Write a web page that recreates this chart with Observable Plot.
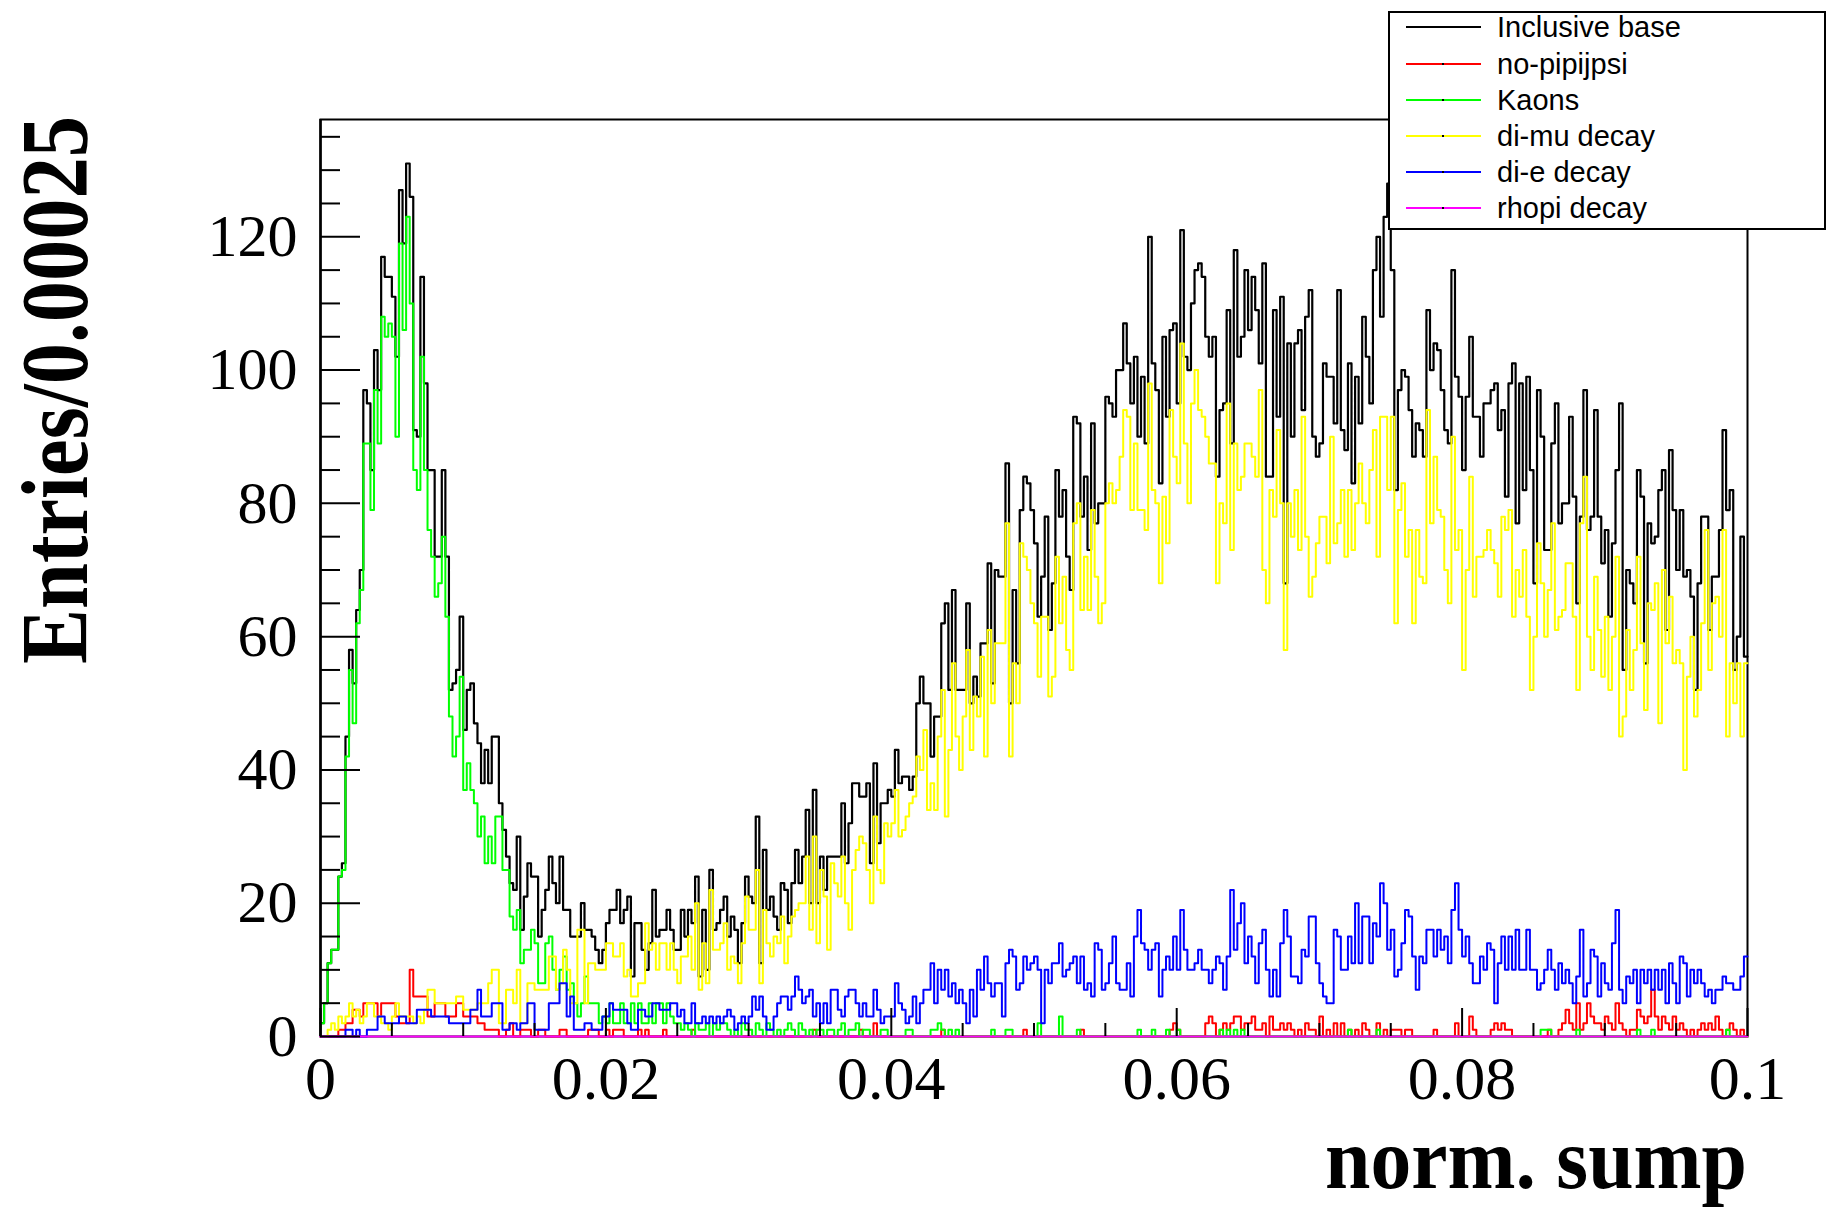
<!DOCTYPE html>
<html><head><meta charset="utf-8">
<script src="https://cdn.jsdelivr.net/npm/d3@7"></script>
<script src="https://cdn.jsdelivr.net/npm/@observablehq/plot@0.6"></script>
<style>body{margin:0;background:#fff;} #chart{width:1826px;height:1208px;}</style>
</head><body><div id="chart"></div>
<script>
// Histogram axis: 400 bins on [0, 0.1]
const xLo = 0, xHi = 0.1, binWidth = 0.00025;

const inclusiveBase = [
2,5,11,13,13,24,26,45,58,53, 64,70,97,95,85,103,97,117,114,114,
111,102,127,119,131,126,91,90,114,98, 85,85,72,72,85,72,52,53,55,63,
46,52,53,47,44,38,43,38,45,45, 35,31,27,23,22,30,16,21,26,24,
24,15,19,22,27,23,20,27,19,19, 15,15,15,20,16,16,15,13,11,13,
17,19,19,22,17,19,21,9,17,17, 13,10,14,22,15,16,16,19,16,13,
13,19,15,19,17,24,9,19,10,25, 16,17,19,21,15,18,16,11,17,24,
21,20,33,11,28,19,21,18,16,23, 22,17,23,28,23,27,34,20,37,20,
27,22,27,27,27,27,35,26,32,38, 38,36,36,38,26,41,29,35,35,37,
36,43,38,39,39,37,39,50,54,50, 50,42,48,48,62,65,52,67,52,52,
52,65,50,54,51,59,59,71,53,70, 69,69,86,50,67,56,79,84,83,79,
74,63,69,78,61,68,85,78,82,72, 67,93,92,78,84,73,92,77,80,80,
96,95,93,100,100,107,101,95,102,90, 99,89,120,101,97,83,105,93,106,107,
95,121,102,100,110,115,116,114,105,102, 105,84,94,95,109,89,118,102,105,115,
106,114,109,101,116,84,84,109,93,111, 68,104,90,104,106,94,108,112,90,87,
89,101,99,99,92,112,91,88,101,83, 99,92,108,102,95,115,120,108,123,128,
115,82,97,100,99,94,87,92,91,87, 109,100,104,103,97,91,89,115,99,96,
85,96,105,93,93,87,95,95,97,98, 91,94,81,98,101,77,98,82,99,85,
68,97,90,73,73,89,95,77,80,80, 93,81,65,78,97,76,78,94,78,71,
76,63,74,85,95,55,70,68,65,85, 81,56,77,74,75,82,85,61,88,79,
70,79,69,70,66,52,68,78,78,61, 69,69,76,91,79,82,55,60,75,57
];

const noPipijpsi = [
0,0,0,0,0,1,1,2,2,4, 4,3,5,5,5,5,3,5,5,5,
5,3,2,2,2,10,6,6,6,6, 3,3,5,5,5,3,3,3,5,5,
3,3,3,3,2,2,1,1,1,1, 0,0,1,2,0,0,1,1,1,0,
0,1,1,0,0,0,0,1,1,0, 0,0,0,0,0,1,1,1,0,0,
1,0,1,1,1,0,0,0,0,1, 0,1,0,0,0,0,1,0,0,0,
0,0,0,0,1,0,0,0,0,0, 0,0,0,0,0,0,0,0,0,0,
0,0,0,0,0,0,0,0,0,0, 0,0,0,0,0,0,0,0,1,0,
0,0,0,0,0,0,0,0,0,0, 0,1,0,0,0,2,0,0,0,0,
0,0,0,0,0,0,0,0,0,0, 0,0,0,0,1,0,0,0,0,0,
0,0,0,0,0,0,0,0,0,0, 0,0,0,0,0,0,0,1,0,0,
0,0,0,0,0,0,0,0,0,0, 0,0,0,1,0,0,0,0,0,0,
0,0,0,0,0,0,0,0,0,0, 0,0,0,0,0,0,0,0,1,2,
1,0,0,0,0,0,0,0,2,3, 2,0,1,2,1,2,3,3,1,2,
2,3,1,1,2,0,3,1,1,2, 1,2,1,0,1,0,2,1,1,0,
3,0,1,0,2,0,2,0,1,0, 1,0,2,1,0,0,2,0,1,0,
1,1,1,0,1,1,0,0,0,0, 0,0,1,0,0,0,0,0,2,0,
0,0,3,1,0,0,0,0,1,2, 1,2,1,1,0,0,0,0,0,0,
0,0,0,0,1,0,0,1,2,4, 2,1,5,1,2,5,3,2,2,1,
3,2,1,5,2,1,0,1,1,4, 3,2,3,7,3,1,3,2,1,3,
1,2,1,0,1,0,1,2,1,2, 1,3,1,0,1,2,1,0,1,0
];

const kaons = [
2,5,11,13,13,24,25,42,55,47, 62,67,89,89,79,97,89,108,105,107,
105,90,119,106,123,110,85,82,102,85, 76,72,66,68,75,63,48,42,45,54,
37,41,37,35,30,33,26,30,26,33, 33,25,25,18,16,19,11,13,13,16,
14,8,8,14,15,10,7,10,12,7, 8,5,3,5,9,5,5,5,2,3,
2,5,2,2,5,2,2,5,2,5, 2,2,5,2,5,5,2,5,3,2,
2,1,2,1,0,2,1,1,2,0, 2,1,2,2,1,0,1,0,2,1,
1,0,2,1,0,2,1,0,1,0, 1,2,1,0,2,1,0,1,0,1,
1,0,1,1,0,1,2,0,1,1, 2,0,1,1,0,0,0,1,1,0,
0,0,0,0,1,1,0,0,0,0, 0,1,1,2,1,0,1,0,1,0,
0,0,0,0,0,0,0,0,1,0, 0,0,1,1,0,0,0,0,0,0,
0,2,0,0,0,0,0,3,0,0, 0,0,1,0,0,0,0,0,0,0,
0,0,0,0,0,0,0,0,0,1, 0,0,0,1,0,0,0,1,0,0,
1,0,0,0,0,0,0,0,0,0, 0,0,1,0,1,0,1,0,1,0,
0,0,0,0,0,0,0,0,0,0, 0,0,0,0,0,0,0,0,0,0,
0,0,0,0,0,0,0,0,1,0, 0,0,0,0,0,0,1,0,0,0,
0,0,0,0,0,0,0,0,0,0, 0,0,0,0,0,0,0,0,0,0,
0,0,0,0,0,0,0,0,0,0, 0,0,0,0,0,0,0,0,0,0,
0,0,1,1,1,0,0,0,0,0, 0,0,1,0,0,0,0,0,0,0,
0,0,0,0,0,0,0,0,0,1, 0,0,0,1,0,0,0,0,0,0,
0,0,0,0,0,0,0,0,0,0, 0,0,0,0,1,0,0,0,0,0
];

const diMuDecay = [
0,0,1,2,1,3,2,3,5,3, 4,2,3,5,5,3,3,2,2,1,
3,5,3,3,3,3,2,3,2,4, 7,7,5,5,5,5,5,5,6,6,
4,4,4,4,5,5,5,8,10,10, 2,2,7,7,5,10,2,2,8,8,
7,7,7,7,12,12,7,8,13,10, 5,5,16,16,5,11,11,10,10,10,
14,14,12,12,14,9,10,6,6,8, 8,17,13,14,10,14,14,10,14,10,
8,12,12,15,10,20,7,14,8,22, 13,13,14,17,10,12,11,8,14,21,
16,16,25,8,19,14,12,15,14,18, 11,15,18,19,20,20,27,16,30,14,
25,21,13,26,23,21,27,20,16,25, 28,30,29,25,20,33,25,23,32,30,
32,37,30,31,33,35,36,42,40,46, 34,38,34,45,52,33,43,56,45,40,
48,58,43,51,48,57,42,61,50,59, 59,59,77,42,56,50,74,72,70,65,
62,54,63,63,51,54,72,62,69,58, 55,77,80,64,72,64,79,69,62,65,
80,83,80,82,87,94,93,79,89,79, 79,76,98,82,80,68,81,74,94,87,
83,104,89,80,95,100,94,93,90,86, 86,68,80,77,95,73,89,82,84,89,
89,87,84,97,70,65,82,78,91,80, 58,80,75,82,73,93,75,66,69,74,
78,78,71,90,74,77,82,72,82,73, 80,86,80,77,85,91,72,93,93,82,
93,62,79,83,72,76,62,76,69,68, 94,77,87,79,78,70,65,90,73,76,
55,70,84,66,72,72,73,76,73,71, 66,78,76,79,63,70,66,73,63,52,
60,74,68,60,67,77,61,63,64,71, 71,63,52,77,84,60,55,69,61,54,
63,52,60,72,45,48,61,52,58,72, 59,49,65,64,68,47,70,59,66,56,
58,56,40,54,60,48,52,62,76,55, 65,66,60,76,45,56,50,56,45,56
];

const diEDecay = [
0,0,0,0,0,0,0,1,1,0, 1,0,0,1,1,1,3,3,2,2,
2,2,3,3,2,2,2,4,4,4, 4,3,3,3,3,3,2,2,2,2,
2,2,4,4,7,3,3,3,5,5, 5,1,1,2,2,1,2,2,5,5,
1,1,1,1,5,5,5,8,8,3, 6,1,1,1,2,2,1,1,1,3,
3,5,4,4,4,4,2,1,1,4, 4,3,3,5,5,4,4,4,5,5,
3,4,2,2,5,2,2,3,2,3, 2,3,2,3,4,3,1,2,3,2,
3,6,4,6,3,1,1,3,5,6, 6,4,6,9,7,5,6,7,3,5,
2,5,2,7,7,4,3,6,7,7, 5,3,5,3,3,7,4,2,3,3,
3,8,5,4,2,3,6,2,5,7, 7,11,5,10,7,10,6,8,5,7,
5,2,7,3,10,7,12,8,6,8, 8,3,11,13,12,7,8,12,10,11,
12,10,2,10,8,11,11,14,9,10, 11,12,8,12,7,8,6,14,13,7,
8,11,15,8,7,7,11,6,15,19, 14,13,10,13,14,6,10,12,10,15,
10,19,13,10,10,11,13,10,10,8, 10,12,11,7,12,22,13,17,20,11,
15,12,8,14,16,10,6,10,6,14, 19,15,9,9,8,13,12,18,18,11,
8,6,5,5,16,15,10,10,15,11, 20,11,18,18,11,17,15,23,20,13,
16,9,10,14,19,18,12,7,12,11, 16,16,12,16,13,15,11,19,23,16,
12,15,11,8,8,12,10,14,13,5, 11,15,10,15,10,16,10,10,16,10,
10,7,8,10,13,10,7,11,8,10, 8,5,9,16,6,8,13,12,6,11,
8,7,14,19,7,5,9,8,10,5, 10,8,10,7,10,7,10,5,11,8,
5,12,11,6,10,8,10,8,6,7, 5,7,7,9,8,8,7,7,9,12
];

const rhopiDecay = [
0,0,0,0,0,0,0,0,0,0, 0,0,0,0,0,0,0,0,0,0, 0,0,0,0,0,0,0,0,0,0, 0,0,0,0,0,0,0,0,0,0,
0,0,0,0,0,0,0,0,0,0, 0,0,0,0,0,0,0,0,0,0, 0,0,0,0,0,0,0,0,0,0, 0,0,0,0,0,0,0,0,0,0,
0,0,0,0,0,0,0,0,0,0, 0,0,0,0,0,0,0,0,0,0, 0,0,0,0,0,0,0,0,0,0, 0,0,0,0,0,0,0,0,0,0,
0,0,0,0,0,0,0,0,0,0, 0,0,0,0,0,0,0,0,0,0, 0,0,0,0,0,0,0,0,0,0, 0,0,0,0,0,0,0,0,0,0,
0,0,0,0,0,0,0,0,0,0, 0,0,0,0,0,0,0,0,0,0, 0,0,0,0,0,0,0,0,0,0, 0,0,0,0,0,0,0,0,0,0,
0,0,0,0,0,0,0,0,0,0, 0,0,0,0,0,0,0,0,0,0, 0,0,0,0,0,0,0,0,0,0, 0,0,0,0,0,0,0,0,0,0,
0,0,0,0,0,0,0,0,0,0, 0,0,0,0,0,0,0,0,0,0, 0,0,0,0,0,0,0,0,0,0, 0,0,0,0,0,0,0,0,0,0,
0,0,0,0,0,0,0,0,0,0, 0,0,0,0,0,0,0,0,0,0, 0,0,0,0,0,0,0,0,0,0, 0,0,0,0,0,0,0,0,0,0,
0,0,0,0,0,0,0,0,0,0, 0,0,0,0,0,0,0,0,0,0, 0,0,0,0,0,0,0,0,0,0, 0,0,0,0,0,0,0,0,0,0,
0,0,0,0,0,0,0,0,0,0, 0,0,0,0,0,0,0,0,0,0, 0,0,0,0,0,0,0,0,0,0, 0,0,0,0,0,0,0,0,0,0
];

const seriesNames = ["Inclusive base", "no-pipijpsi", "Kaons", "di-mu decay", "di-e decay", "rhopi decay"];
const seriesColors = ["#000000", "#ff0000", "#00ff00", "#ffff00", "#0000ff", "#ff00ff"];
const seriesValues = [inclusiveBase, noPipijpsi, kaons, diMuDecay, diEDecay, rhopiDecay];

const xMajorTicks = [0, 0.02, 0.04, 0.06, 0.08, 0.1];
const xTickLabels = ["0", "0.02", "0.04", "0.06", "0.08", "0.1"];
const xMinorTicks = [0.005,0.01,0.015,0.025,0.03,0.035,0.045,0.05,0.055,0.065,0.07,0.075,0.085,0.09,0.095];
const yMajorTicks = [0, 20, 40, 60, 80, 100, 120];
const yMinorTicks = [5,10,15,25,30,35,45,50,55,65,70,75,85,90,95,105,110,115,125,130,135];
const yMax = 137.6;
const xTitle = "norm. sump";
const yTitle = "Entries/0.00025";

// layout
const W = 1826, H = 1208, mL = 320, mR = 79, mT = 119, mB = 172;
const plotW = W - mL - mR, plotH = H - mT - mB;

function stepTable(values) {
  const pts = values.map((v, i) => ({x: xLo + i * binWidth, y: v}));
  pts.push({x: xHi, y: values[values.length - 1]});
  return pts;
}

const marks = [Plot.frame({stroke: "#000", strokeWidth: 2})];
seriesValues.forEach((vals, k) => {
  marks.push(Plot.line(stepTable(vals), {x: "x", y: "y", curve: "step-after",
    stroke: seriesColors[k], strokeWidth: k === 0 ? 2.2 : 2}));
});
marks.push(
  Plot.ruleY(yMajorTicks, {y: d => d, insetRight: plotW - 40, stroke: "#000", strokeWidth: 2}),
  Plot.ruleY(yMinorTicks, {y: d => d, insetRight: plotW - 20, stroke: "#000", strokeWidth: 2}),
  Plot.ruleX(xMajorTicks, {x: d => d, insetTop: plotH - 28, stroke: "#000", strokeWidth: 2}),
  Plot.ruleX(xMinorTicks, {x: d => d, insetTop: plotH - 13, stroke: "#000", strokeWidth: 2}),
  Plot.ruleX([xLo], {x: d => d, stroke: "#000", strokeWidth: 2.5}),
  Plot.axisY(yMajorTicks, {tickSize: 0, tickPadding: 23, fontSize: 60, fontFamily: "Liberation Serif",
    tickFormat: d => String(d), label: null}),
  Plot.axisX(xMajorTicks, {tickSize: 0, tickPadding: 18, fontSize: 62, fontFamily: "Liberation Serif",
    tickFormat: d => xTickLabels[xMajorTicks.indexOf(d)], label: null})
);

const chart = Plot.plot({
  width: W, height: H,
  marginLeft: mL, marginRight: mR, marginTop: mT, marginBottom: mB,
  x: {domain: [xLo, xHi]},
  y: {domain: [0, yMax]},
  style: {background: "#fff", color: "#000", overflow: "visible"},
  marks
});
document.getElementById("chart").appendChild(chart);

const svg = d3.select(chart);
svg.append("text")
  .attr("transform", "translate(87,116) rotate(-90)")
  .attr("text-anchor", "end")
  .attr("font-family", "Liberation Serif").attr("font-weight", "bold")
  .attr("font-size", 96)
  .attr("textLength", 548).attr("lengthAdjust", "spacingAndGlyphs")
  .attr("fill", "#000")
  .text(yTitle);
svg.append("text")
  .attr("x", 1747).attr("y", 1188)
  .attr("text-anchor", "end")
  .attr("font-family", "Liberation Serif").attr("font-weight", "bold")
  .attr("font-size", 87)
  .attr("textLength", 422).attr("lengthAdjust", "spacingAndGlyphs")
  .attr("fill", "#000")
  .text(xTitle);

// legend box
const lg = svg.append("g").attr("text-anchor", "start");
lg.append("rect").attr("x", 1389).attr("y", 12).attr("width", 436).attr("height", 217)
  .attr("fill", "#fff").attr("stroke", "#000").attr("stroke-width", 2);
const rowY = [27, 64, 100, 136, 172, 208];
seriesNames.forEach((name, k) => {
  const y = rowY[k];
  lg.append("line").attr("x1", 1406).attr("x2", 1481).attr("y1", y).attr("y2", y)
    .attr("stroke", seriesColors[k]).attr("stroke-width", 2);
  lg.append("rect").attr("x", 1442).attr("y", y - 1).attr("width", 2).attr("height", 2).attr("fill", "#000");
  lg.append("text").attr("x", 1497).attr("y", y).attr("dy", "0.35em")
    .attr("text-anchor", "start")
    .attr("font-family", "Liberation Sans").attr("font-size", 29).attr("fill", "#000")
    .text(name);
});
</script>
</body></html>
